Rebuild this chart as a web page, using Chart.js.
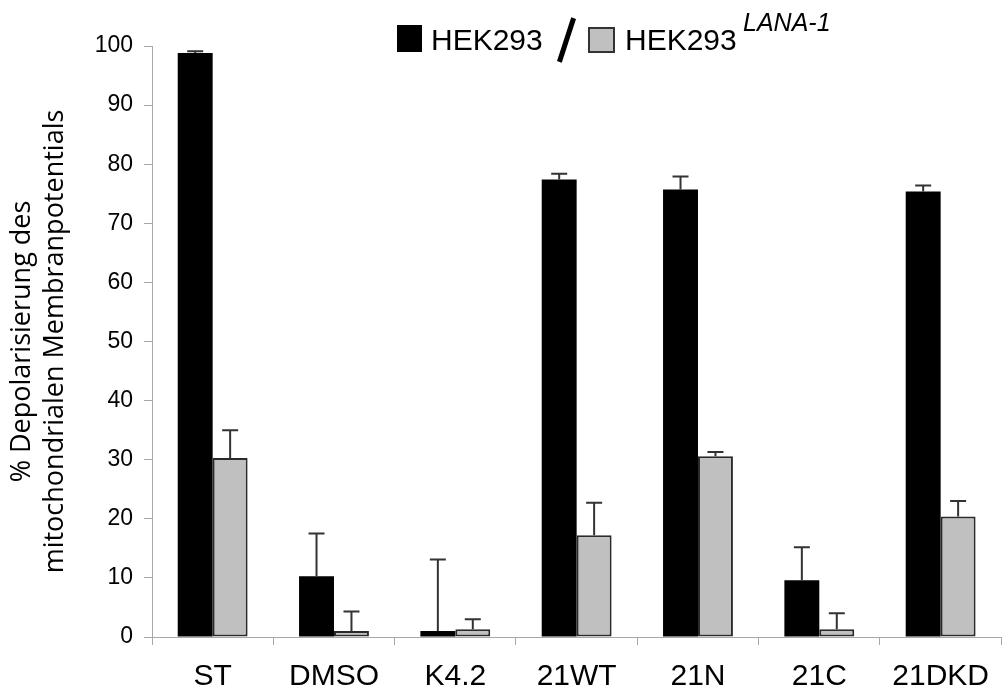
<!DOCTYPE html>
<html lang="de">
<head>
  <meta charset="UTF-8">
  <title>Depolarisierung des mitochondrialen Membranpotentials</title>
  <script src="https://cdn.jsdelivr.net/npm/chart.js"></script>
  <style>
    body { margin: 0; background: #fff; }
    #wrap { position: relative; width: 1003px; height: 693px; }
    #legend span { position: absolute; font-family: "Liberation Sans", Arial, sans-serif; color: #000; line-height: 1; white-space: nowrap; }
    .box { position: absolute; box-sizing: border-box; }
  </style>
</head>
<body>
  <div id="wrap">
    <canvas id="chart" width="1003" height="693"></canvas>
    <!-- legend drawn as html, it has a slash and a superscript -->
    <div id="legend">
      <div class="box" style="left:397px; top:25px; width:25px; height:27px; background:#000;"></div>
      <span style="left:431px; top:25px; font-size:30px;">HEK293</span>
      <div class="box" style="left:564px; top:17px; width:5px; height:46px; background:#000; transform:rotate(18deg);"></div>
      <div class="box" style="left:588px; top:27px; width:27px; height:26px; background:#c0c0c0; border:2px solid #333;"></div>
      <span style="left:625px; top:25px; font-size:30px;">HEK293</span>
      <span style="left:743px; top:10px; font-size:25px; font-style:italic;">LANA-1</span>
    </div>
  </div>
  <script>
    // values
    const categories = ['ST', 'DMSO', 'K4.2', '21WT', '21N', '21C', '21DKD'];
    const hekValues = [98.8, 10.3, 1.0, 77.4, 75.7, 9.6, 75.4];
    const hekErrors = [0.3, 7.2, 12.1, 1.0, 2.2, 5.6, 1.0];
    const lanaValues = [30.3, 1.0, 1.3, 17.2, 30.6, 1.3, 20.4];
    const lanaErrors = [4.7, 3.3, 1.7, 5.5, 0.7, 2.7, 2.6];
    const yTitle = ['% Depolarisierung des', 'mitochondrialen Membranpotentials'];

    const axisGray = '#a8a8a8';

    // upward-only error bars with a cap
    const errorBars = {
      id: 'errorBars',
      afterDatasetsDraw(chart) {
        const ctx = chart.ctx;
        const y = chart.scales.y;
        ctx.save();
        ctx.strokeStyle = '#333';
        ctx.lineWidth = 2;
        chart.data.datasets.forEach((ds, di) => {
          const meta = chart.getDatasetMeta(di);
          meta.data.forEach((bar, i) => {
            const top = y.getPixelForValue(ds.data[i] + ds.errors[i]);
            ctx.beginPath();
            ctx.moveTo(bar.x, bar.y);
            ctx.lineTo(bar.x, top);
            ctx.moveTo(bar.x - 8, top);
            ctx.lineTo(bar.x + 8, top);
            ctx.stroke();
          });
        });
        ctx.restore();
      }
    };

    new Chart(document.getElementById('chart'), {
      type: 'bar',
      data: {
        labels: categories,
        datasets: [
          {
            label: 'HEK293',
            data: hekValues,
            errors: hekErrors,
            backgroundColor: '#000',
            borderWidth: 0
          },
          {
            label: 'HEK293 LANA-1',
            data: lanaValues,
            errors: lanaErrors,
            backgroundColor: '#c0c0c0',
            borderColor: '#2a2a2a',
            borderWidth: 2,
            borderSkipped: false
          }
        ]
      },
      options: {
        responsive: false,
        animation: false,
        categoryPercentage: 0.576,
        barPercentage: 1,
        layout: { padding: { top: 46, right: 0, bottom: 0, left: 0 } },
        plugins: {
          legend: { display: false },
          tooltip: { enabled: false }
        },
        scales: {
          x: {
            grid: { offset: true, drawOnChartArea: false, tickLength: 8, color: axisGray },
            border: { color: axisGray },
            ticks: {
              color: '#000',
              padding: 14,
              maxRotation: 0,
              font: { family: 'Liberation Sans', size: 30 }
            },
            afterFit(s) { s.height = 56; }
          },
          y: {
            min: 0,
            max: 100,
            grid: { drawOnChartArea: false, tickLength: 8, color: axisGray },
            border: { color: axisGray },
            ticks: {
              stepSize: 10,
              color: '#000',
              padding: 11,
              font: { family: 'Liberation Sans', size: 23 }
            },
            title: {
              display: true,
              text: yTitle,
              color: '#000',
              font: { family: 'Open Sans', size: 27, lineHeight: 1.22 },
              padding: { top: 6, bottom: 0 }
            },
            afterFit(s) { s.width = 152; }
          }
        }
      },
      plugins: [errorBars]
    });
  </script>
</body>
</html>
